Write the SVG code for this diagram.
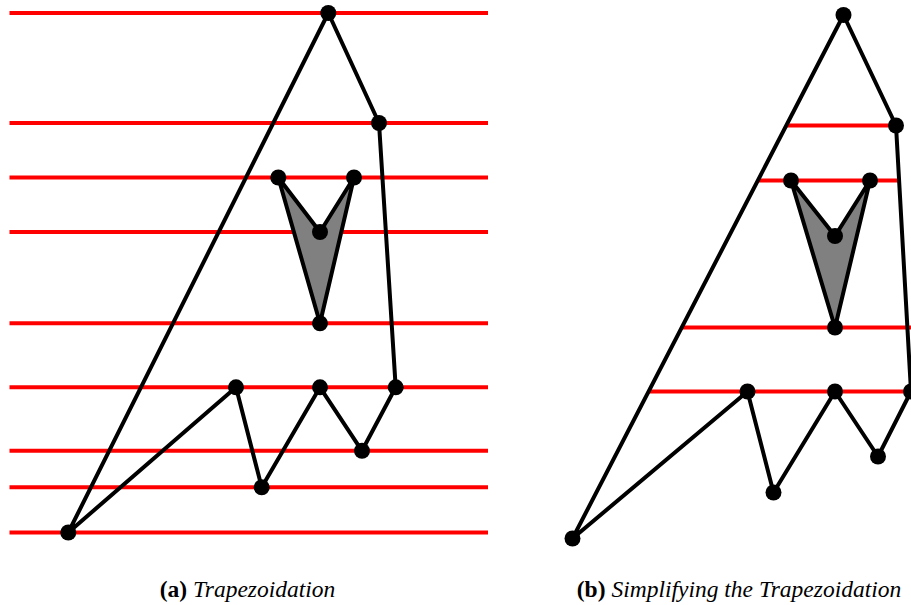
<svg xmlns="http://www.w3.org/2000/svg" width="911" height="605" viewBox="0 0 911 605">
<style>
.sweep{stroke:#ff0000;stroke-width:4;fill:none}
.edge{stroke:#000;stroke-width:4;fill:none;stroke-linejoin:round}
.hole{stroke:#000;stroke-width:4;fill:#808080;stroke-linejoin:round}
.v{fill:#000}
.cap{font-family:'Liberation Serif','Times New Roman','DejaVu Serif',serif;font-size:23.5px;fill:#000}
</style>
<rect width="911" height="605" fill="#fff"/>
<g id="panel-a">
  <g id="sweep-lines-a">
    <line class="sweep" x1="9.5" y1="13" x2="488" y2="13"/>
    <line class="sweep" x1="9.5" y1="123" x2="488" y2="123"/>
    <line class="sweep" x1="9.5" y1="177.5" x2="488" y2="177.5"/>
    <line class="sweep" x1="9.5" y1="232" x2="488" y2="232"/>
    <line class="sweep" x1="9.5" y1="323.3" x2="488" y2="323.3"/>
    <line class="sweep" x1="9.5" y1="387.3" x2="488" y2="387.3"/>
    <line class="sweep" x1="9.5" y1="450.8" x2="488" y2="450.8"/>
    <line class="sweep" x1="9.5" y1="487.3" x2="488" y2="487.3"/>
    <line class="sweep" x1="9.5" y1="532.5" x2="488" y2="532.5"/>
  </g>
  <g id="polygon-a">
    <polygon class="edge" points="68.3,532.5 328.3,13 379,123 395.7,387.3 362,450.8 320,387.3 261.7,487.3 236,387.3"/>
    <polygon class="hole" points="278.3,177.5 320,232 354,177.5 320,323.3"/>
  </g>
  <g id="vertices-a">
    <circle class="v" cx="68.3" cy="532.5" r="8"/>
    <circle class="v" cx="328.3" cy="13" r="8"/>
    <circle class="v" cx="379" cy="123" r="8"/>
    <circle class="v" cx="395.7" cy="387.3" r="8"/>
    <circle class="v" cx="362" cy="450.8" r="8"/>
    <circle class="v" cx="320" cy="387.3" r="8"/>
    <circle class="v" cx="261.7" cy="487.3" r="8"/>
    <circle class="v" cx="236" cy="387.3" r="8"/>
    <circle class="v" cx="278.3" cy="177.5" r="8"/>
    <circle class="v" cx="354" cy="177.5" r="8"/>
    <circle class="v" cx="320" cy="232" r="8"/>
    <circle class="v" cx="320" cy="323.3" r="8"/>
  </g>
  <text id="caption-a" class="cap" x="247.5" y="597" text-anchor="middle"><tspan font-weight="bold">(a)</tspan> <tspan font-style="italic">Trapezoidation</tspan></text>
</g>
<g id="panel-b">
  <g id="sweep-lines-b">
    <line class="sweep" x1="786.3" y1="125.5" x2="896" y2="125.5"/>
    <line class="sweep" x1="757.8" y1="180.5" x2="899" y2="180.5"/>
    <line class="sweep" x1="681.7" y1="327.5" x2="911" y2="327.5"/>
    <line class="sweep" x1="648.6" y1="391.5" x2="911" y2="391.5"/>
  </g>
  <g id="polygon-b">
    <polygon class="edge" points="572.5,538.5 843.5,15 896,125.5 911,391.5 878,456.5 835,391.5 773.5,492.5 747.5,391.5"/>
    <polygon class="hole" points="791,180.5 835,236 870,180.5 835,327.5"/>
  </g>
  <g id="vertices-b">
    <circle class="v" cx="572.5" cy="538.5" r="8"/>
    <circle class="v" cx="843.5" cy="15" r="8"/>
    <circle class="v" cx="896" cy="125.5" r="8"/>
    <circle class="v" cx="911" cy="391.5" r="8"/>
    <circle class="v" cx="878" cy="456.5" r="8"/>
    <circle class="v" cx="835" cy="391.5" r="8"/>
    <circle class="v" cx="773.5" cy="492.5" r="8"/>
    <circle class="v" cx="747.5" cy="391.5" r="8"/>
    <circle class="v" cx="791" cy="180.5" r="8"/>
    <circle class="v" cx="870" cy="180.5" r="8"/>
    <circle class="v" cx="835" cy="236" r="8"/>
    <circle class="v" cx="835" cy="327.5" r="8"/>
  </g>
  <text id="caption-b" class="cap" x="739" y="597" text-anchor="middle"><tspan font-weight="bold">(b)</tspan> <tspan font-style="italic">Simplifying the Trapezoidation</tspan></text>
</g>
</svg>
